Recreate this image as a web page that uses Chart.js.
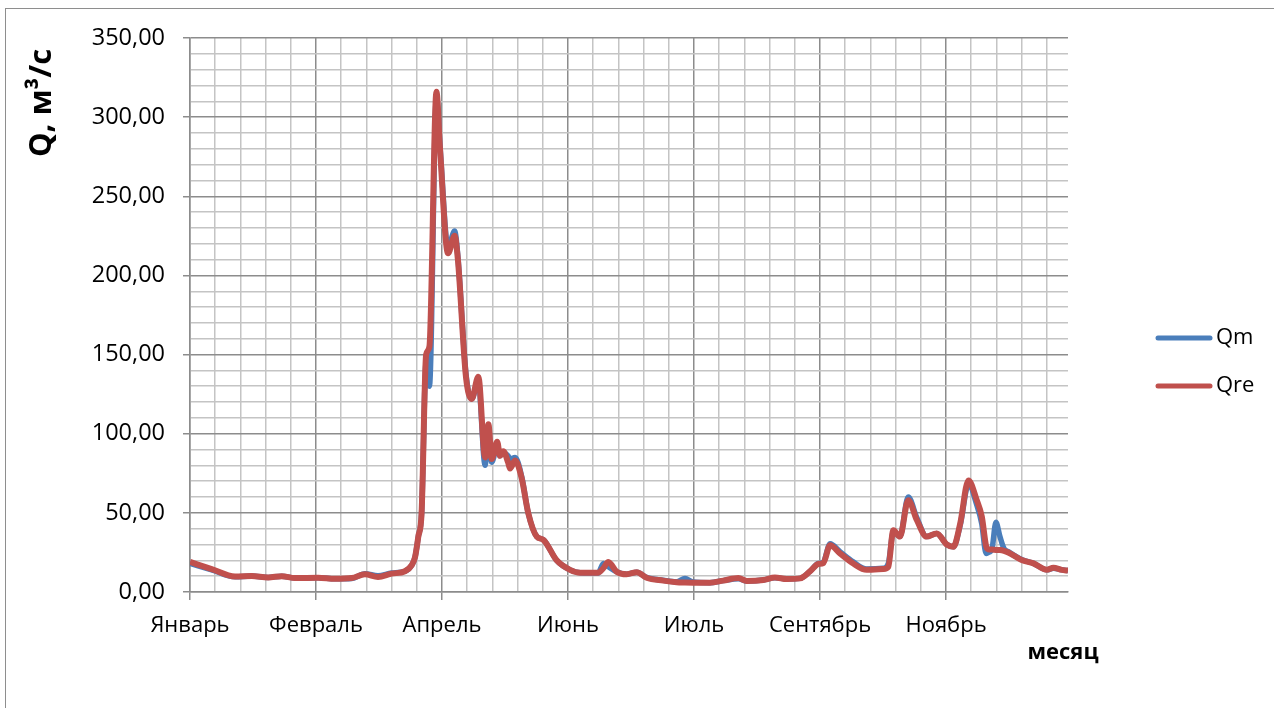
<!DOCTYPE html>
<html>
<head>
<meta charset="utf-8">
<script src="https://cdn.jsdelivr.net/npm/chart.js@4.4.1/dist/chart.umd.min.js"></script>
<style>
  html, body { margin: 0; padding: 0; background: #fff; overflow: hidden; }
  #frame { position: absolute; left: 5px; top: 8px; width: 1300px; height: 800px; border: 1px solid #8e8e8e; }
  #flow-chart { position: absolute; left: 0; top: 0; }
</style>
</head>
<body>
<div id="frame"></div>
<canvas id="flow-chart" width="1274" height="708"></canvas>
<script>
// day index along the category axis (50 units between labelled ticks)
const dayIndex = [
  0, 8.6, 17.9, 24.5, 31, 36.4, 41.7, 50.8, 57.5, 64.2,
  69.4, 74.6, 80, 85.3, 88, 89.3, 90.6, 91.9, 93.7, 95.0,
  97.8, 99.2, 102.4, 105, 106.3, 109.5, 111.8, 114.4, 117.1, 118.4,
  119.7, 121.9, 123, 124.3, 126.2, 127, 129, 131.6, 134.2, 137.6,
  140.2, 145.5, 150.8, 154.8, 162, 164, 166, 169.3, 173.3, 177.3,
  181.2, 187.8, 193.1, 196.4, 199.7, 206.3, 211.6, 217.6, 220.9, 227.5,
  232.1, 236.8, 242.1, 246, 249.3, 251.3, 254, 257.9, 263.2, 268.5,
  275.1, 277.1, 279.1, 281.7, 285, 288.4, 292.3, 296.3, 300.3, 302.9,
  305.6, 308.9, 312.2, 314.2, 315.9, 316.8, 318.2, 319.8, 321.4, 323,
  324.7, 330, 334.7, 340, 342.6, 345.9, 348.4
];

const qm = [
  18, 14, 9.6, 10.1, 9.2, 10, 8.8, 9, 8.3, 8.5,
  11.5, 10.3, 12, 13.1, 17, 22, 35, 50, 145, 130,
  313, 282, 218, 228, 212, 138, 122, 133, 80, 104,
  82, 92, 86, 88, 86, 84, 85, 73, 50, 35,
  33, 20, 14, 12.2, 12, 18, 16, 12.8, 11.2, 12.5,
  9.2, 7.4, 6.4, 8.5, 6.3, 5.9, 7.2, 8.3, 7, 7.6,
  9, 8.2, 8.6, 13, 18, 18.8, 30.5, 25.5, 19, 14.5,
  15, 18, 38, 35, 60, 47, 35, 37, 30, 28.6,
  42, 68, 55, 43, 24.4, 25, 27, 44, 35, 27.5,
  25.5, 20.5, 18.1, 14, 15, 14, 13.5
];

const qre = [
  19, 14.5, 9.8, 10.1, 9.2, 10, 8.8, 9, 8.3, 8.8,
  11.2, 9.5, 11.6, 13.1, 17, 22, 35, 50, 150, 155,
  316, 280, 214, 225, 210, 136, 122, 136, 85, 106,
  84, 95, 86, 89, 82, 78, 83, 72, 50, 35,
  33, 20, 14, 12.2, 12.2, 15, 19, 12.8, 11.2, 12.5,
  9, 7.2, 6.2, 6, 5.9, 5.9, 7.2, 8.8, 7, 7.6,
  9.2, 8.2, 8.6, 13, 17.7, 18.3, 29.5, 24.4, 18, 14,
  14.5, 16, 39, 35, 58, 45.5, 35, 37, 30, 28.6,
  43, 70.5, 58, 47.6, 29, 27, 26.8, 26.6, 26.5, 26,
  25, 20.2, 18.1, 14, 15.3, 14, 13.5
];

const monthLabels = ["Январь", "Февраль", "Апрель", "Июнь", "Июль", "Сентябрь", "Ноябрь"];
const xTicks = [0, 10, 20, 30, 40, 50, 60, 70, 80, 90, 100, 110, 120, 130, 140, 150, 160, 170,
  180, 190, 200, 210, 220, 230, 240, 250, 260, 270, 280, 290, 300, 310, 320, 330, 340];
const yTitle = "Q, м³/с";
const xTitle = "месяц";

const majorColor = "#8c8c8c";
const minorColor = "#c4c4c4";

const chartDecor = {
  id: "chartDecor",
  afterDraw(chart) {
    const ctx = chart.ctx;
    ctx.save();
    ctx.fillStyle = "#000";
    ctx.textAlign = "center";
    ctx.textBaseline = "middle";
    ctx.font = "bold 31px 'Open Sans'";
    ctx.translate(42, 103);
    ctx.rotate(-Math.PI / 2);
    ctx.fillText(yTitle, 0, 0);
    ctx.restore();

    ctx.save();
    ctx.fillStyle = "#000";
    ctx.textAlign = "center";
    ctx.textBaseline = "middle";
    ctx.font = "bold 22px 'Open Sans'";
    ctx.fillText(xTitle, 1063, 653);

    // legend
    ctx.font = "22px 'Open Sans'";
    ctx.textAlign = "left";
    chart.data.datasets.forEach((ds, i) => {
      const y = 338 + i * 48;
      ctx.strokeStyle = ds.borderColor;
      ctx.lineWidth = 5;
      ctx.lineCap = "round";
      ctx.beginPath();
      ctx.moveTo(1158, y);
      ctx.lineTo(1210, y);
      ctx.stroke();
      ctx.fillText(ds.label, 1216, y);
    });
    ctx.restore();
  },
};

const ctx = document.getElementById("flow-chart").getContext("2d");

new Chart(ctx, {
  type: "line",
  data: {
    datasets: [
      {
        label: "Qm",
        data: dayIndex.map((d, i) => ({ x: d, y: qm[i] })),
        borderColor: "#4a7ebb",
        backgroundColor: "#4a7ebb",
        borderWidth: 5.5,
        pointRadius: 0,
        fill: false,
        cubicInterpolationMode: "monotone",
        order: 2,
      },
      {
        label: "Qre",
        data: dayIndex.map((d, i) => ({ x: d, y: qre[i] })),
        borderColor: "#c0504d",
        backgroundColor: "#c0504d",
        borderWidth: 6,
        pointRadius: 0,
        fill: false,
        cubicInterpolationMode: "monotone",
        order: 1,
      },
    ],
  },
  options: {
    responsive: false,
    animation: false,
    layout: { padding: { top: 38, right: 206, bottom: 0, left: 0 } },
    plugins: {
      legend: { display: false },
      tooltip: { enabled: false },
    },
    scales: {
      x: {
        type: "linear",
        min: 0,
        max: 348.4,
        afterBuildTicks: (scale) => {
          scale.ticks = xTicks.map((v) => ({ value: v }));
        },
        afterFit: (scale) => {
          scale.height = 116;
        },
        grid: {
          color: (c) => (c.tick && c.tick.value % 50 === 0 ? majorColor : minorColor),
          tickColor: (c) => (c.tick && c.tick.value % 50 === 0 ? majorColor : "rgba(0,0,0,0)"),
          lineWidth: 1.5,
          tickLength: 8,
        },
        border: { color: majorColor, width: 1.5 },
        ticks: {
          autoSkip: false,
          maxRotation: 0,
          minRotation: 0,
          padding: 13,
          color: "#000",
          font: { size: 22, family: "Open Sans" },
          callback: (v) => (v % 50 === 0 ? monthLabels[v / 50] : ""),
        },
      },
      y: {
        min: 0,
        max: 350,
        afterFit: (scale) => {
          scale.width = 190;
        },
        grid: {
          color: (c) => (c.tick && c.tick.value % 50 === 0 ? majorColor : minorColor),
          tickColor: (c) => (c.tick && c.tick.value % 50 === 0 ? majorColor : "rgba(0,0,0,0)"),
          lineWidth: 1.5,
          tickLength: 7,
        },
        border: { color: majorColor, width: 1.5 },
        ticks: {
          stepSize: 10,
          autoSkip: false,
          padding: 18,
          color: "#000",
          font: { size: 23.5, family: "Open Sans" },
          callback: (v) => (v % 50 === 0 ? v.toFixed(2).replace(".", ",") : ""),
        },
      },
    },
  },
  plugins: [chartDecor],
});
</script>
</body>
</html>
